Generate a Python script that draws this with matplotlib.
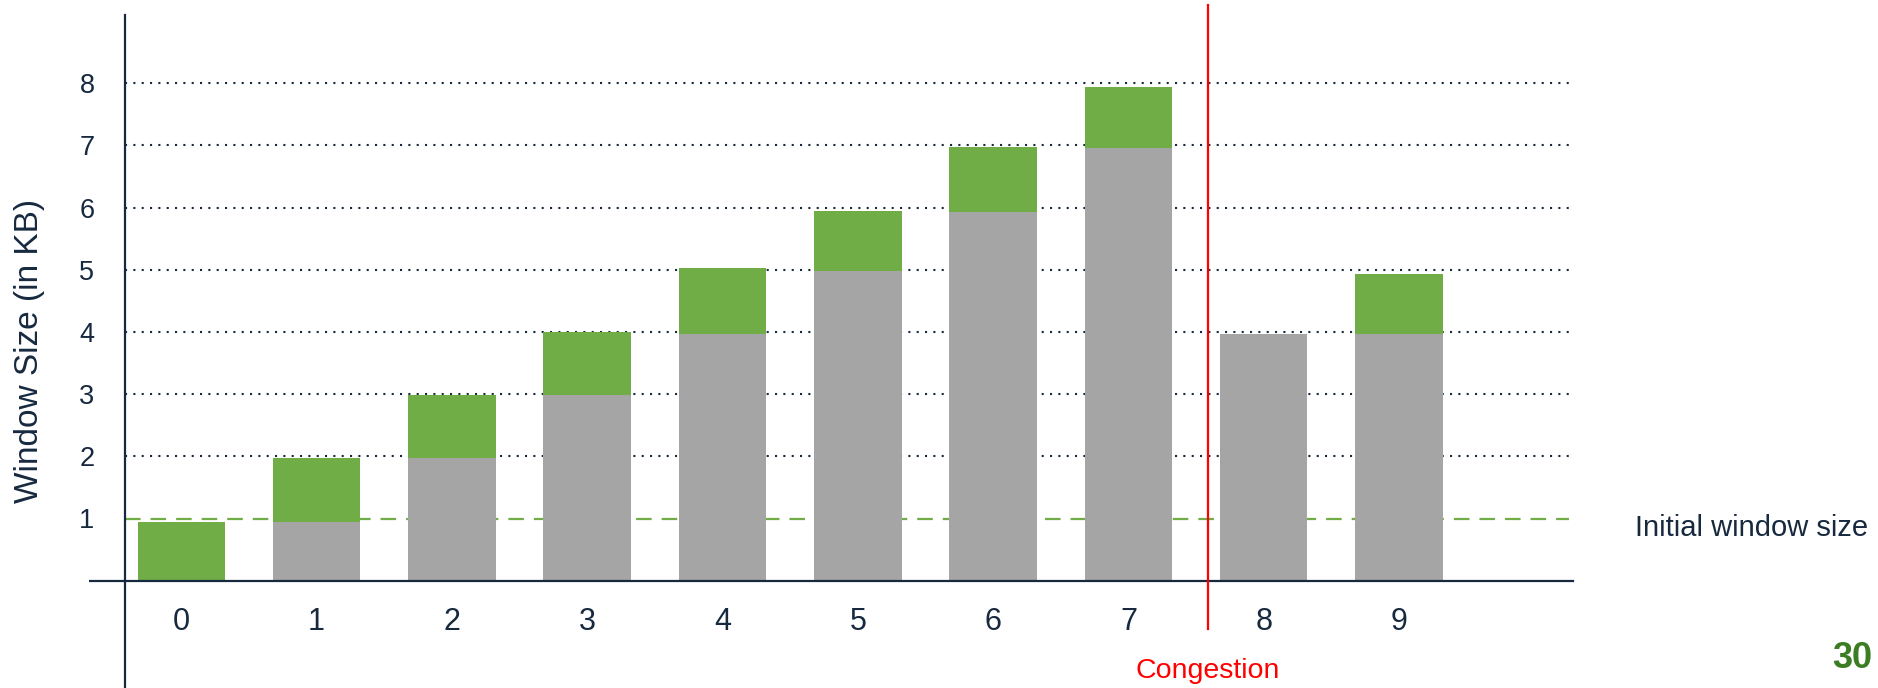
import matplotlib
matplotlib.use("Agg")
import matplotlib.pyplot as plt
import numpy as np

plt.rcParams['font.family'] = ['Liberation Sans', 'DejaVu Sans']

# ---- data ----
rounds = ['0', '1', '2', '3', '4', '5', '6', '7', '8', '9']
base_kb = [0.0, 0.94, 1.97, 2.98, 3.96, 4.98, 5.92, 6.96, 3.96, 3.96]
total_kb = [0.94, 1.97, 2.98, 4.0, 5.02, 5.95, 6.98, 7.93, 3.96, 4.93]
y_ticks = [1, 2, 3, 4, 5, 6, 7, 8]
initial_window = 1.0
congestion_at = 7.59

NAVY = '#17293f'
GREEN = '#70ad47'
GRAY = '#a5a5a5'
RED = '#ff0000'

W, H = 1878, 688
fig = plt.figure(figsize=(W / 100, H / 100), dpi=100)

# layout in pixels
x0_px, unit_x = 181.3, 135.3
y0_px, unit_y = 580.7, 62.2
def dx(px):
    return (px - x0_px) / unit_x
def dy(py):
    return (y0_px - py) / unit_y

left_px, right_px, top_px = 125, 1572.6, 15
ax = fig.add_axes([left_px / W, 0, (right_px - left_px) / W, (H - top_px) / H])
ax.set_xlim(dx(left_px), dx(right_px))
ax.set_ylim(dy(H), dy(top_px))

x = np.arange(len(rounds))
base = np.array(base_kb)
inc = np.array(total_kb) - base

# grid lines (dotted) and initial window (dashed)
ax.hlines(y_ticks[1:], dx(left_px), dx(1569), colors=NAVY, linewidth=1.5,
          linestyles=[(0, (1, 3))], zorder=1)
ax.hlines([initial_window], dx(left_px), dx(1569), colors=GREEN, linewidth=1.6,
          linestyles=[(0, (7, 4.5))], zorder=1)

# bars
ax.bar(x, base, width=0.646, color=GRAY, zorder=2)
ax.bar(x, inc, bottom=base, width=0.646, color=GREEN, zorder=2)

# congestion marker
ax.plot([congestion_at, congestion_at], [dy(629), dy(5)], color=RED, lw=1.6,
        clip_on=False, zorder=5)

# spines
for s in ['top', 'right']:
    ax.spines[s].set_visible(False)
ax.spines['left'].set_color(NAVY)
ax.spines['left'].set_linewidth(1.6)
ax.spines['bottom'].set_position(('data', 0))
ax.spines['bottom'].set_color(NAVY)
ax.spines['bottom'].set_linewidth(1.6)
ax.spines['bottom'].set_zorder(4)
ax.plot([dx(89), dx(left_px)], [0, 0], color=NAVY, lw=1.6, clip_on=False,
        solid_capstyle='butt')

ax.set_yticks(y_ticks)
ax.set_yticklabels([str(t) for t in y_ticks], fontsize=19.5, color=NAVY)
ax.set_xticks(x)
ax.set_xticklabels(rounds, fontsize=22, color=NAVY)
ax.tick_params(axis='y', length=0, pad=22)
ax.tick_params(axis='x', length=0, pad=19)
ax.patch.set_alpha(0)

# texts
fig.text(30 / W, 1 - 351 / H, 'Window Size (in KB)', rotation=90, fontsize=24,
         color=NAVY, ha='center', va='center')
fig.text(1635 / W, 1 - 528 / H, 'Initial window size', fontsize=21,
         color=NAVY, ha='left', va='center')
fig.text(1208 / W, 1 - 671 / H, 'Congestion', fontsize=20.5,
         color=RED, ha='center', va='center')
fig.text(1852 / W, 1 - 659 / H, '30', fontsize=26, fontweight='bold',
         color='#3b7d23', ha='center', va='center')

fig.savefig('out.png', dpi=100)
